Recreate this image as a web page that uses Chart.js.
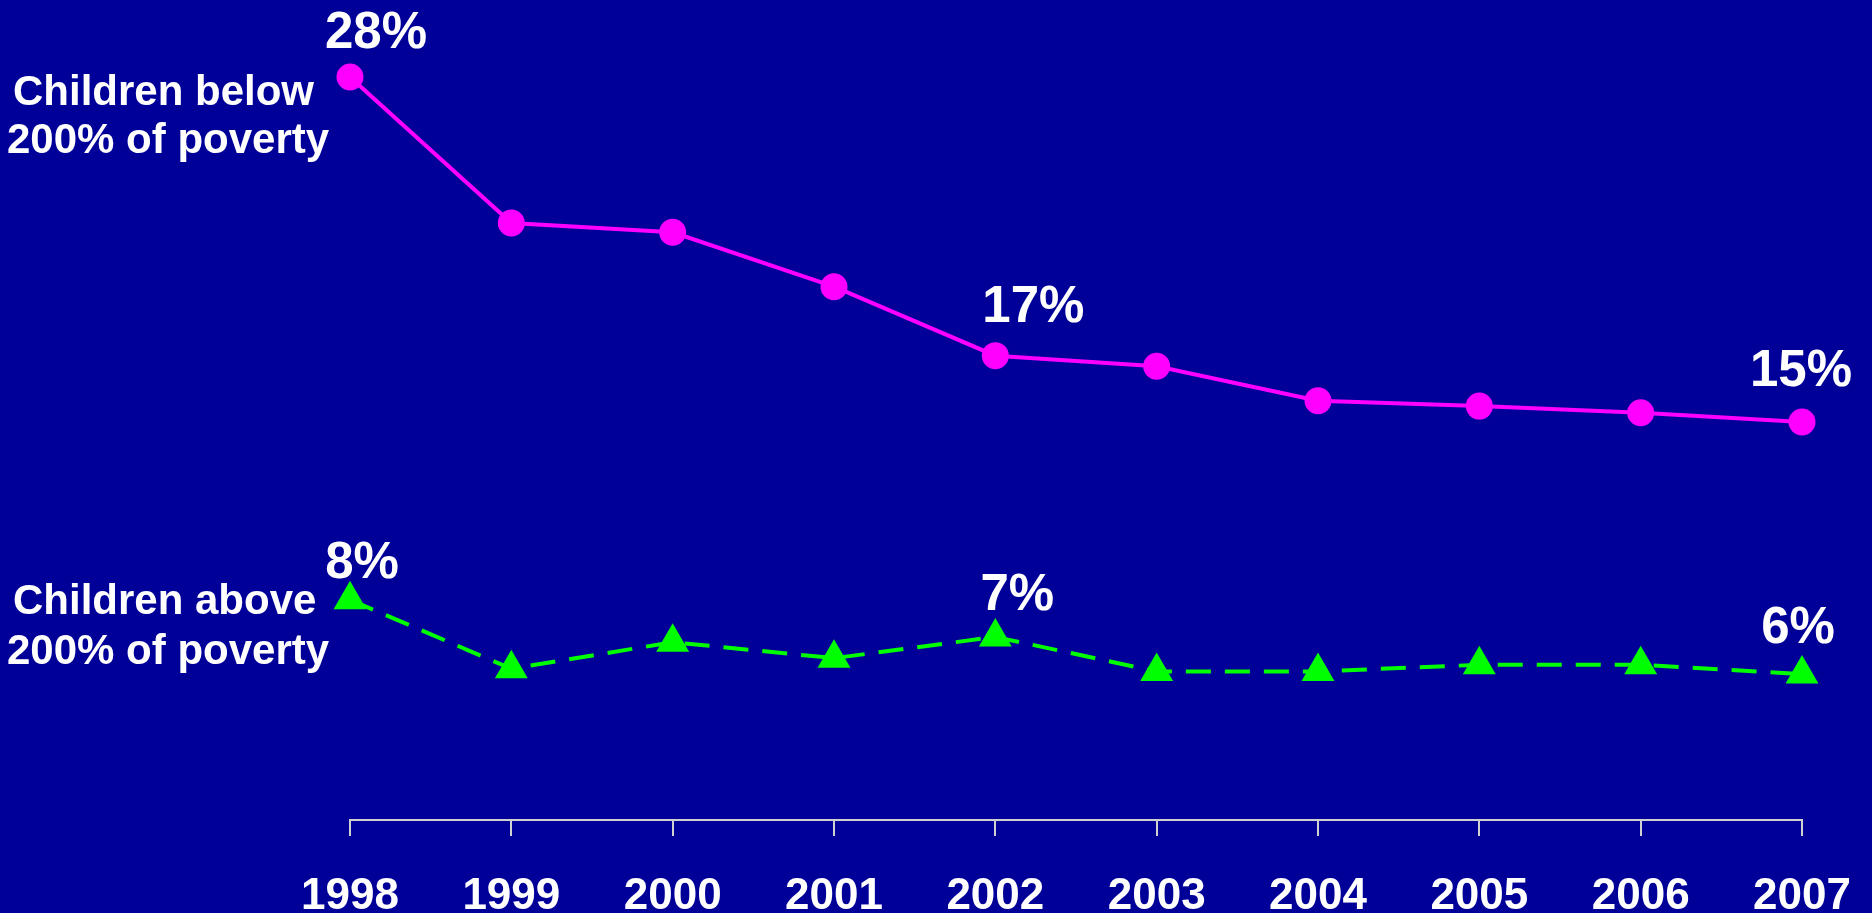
<!DOCTYPE html>
<html>
<head>
<meta charset="utf-8">
<script src="https://cdn.jsdelivr.net/npm/chart.js@4"></script>
<style>
  html, body { margin: 0; padding: 0; background: #000099; }
  #wrap { width: 1872px; height: 913px; }
</style>
</head>
<body>
<div id="wrap"><canvas id="chart" width="1872" height="913"></canvas></div>
<script>
'use strict';
var years = ['1998', '1999', '2000', '2001', '2002', '2003', '2004', '2005', '2006', '2007'];
var belowPoverty = [28.0, 22.5, 22.15, 20.1, 17.5, 17.1, 15.8, 15.6, 15.35, 15.0];
var abovePoverty = [8.3, 5.7, 6.7, 6.1, 6.9, 5.6, 5.6, 5.85, 5.85, 5.5];
var belowLabels = ['28%', '', '', '', '17%', '', '', '', '', '15%'];
var aboveLabels = ['8%', '', '', '', '7%', '', '', '', '', '6%'];
var belowName = ['Children below', '200% of poverty'];
var aboveName = ['Children above', '200% of poverty'];

var FONT = 'Liberation Sans, Arial, Helvetica, sans-serif';

// value labels + series names, drawn on top of the chart
var annotate = {
  id: 'annotate',
  afterDatasetsDraw: function(chart) {
    var ctx = chart.ctx;
    var x = chart.scales.x, y = chart.scales.y;
    ctx.save();
    ctx.fillStyle = '#ffffff';
    ctx.textAlign = 'center';
    ctx.textBaseline = 'alphabetic';
    ctx.font = 'bold 51px ' + FONT;
    // offsets of the label baseline from its point
    var offs = [[26, -29], [38, -34], [-1, -36]];
    var offsG = [[12, -22], [22, -27], [-4, -31]];
    function draw(labels, values, o) {
      var k = 0;
      labels.forEach(function(t, i) {
        if (!t) return;
        ctx.fillText(t, x.getPixelForValue(i) + o[k][0], y.getPixelForValue(values[i]) + o[k][1]);
        k++;
      });
    }
    draw(belowLabels, belowPoverty, offs);
    draw(aboveLabels, abovePoverty, offsG);

    ctx.textAlign = 'left';
    ctx.font = 'bold 42px ' + FONT;
    ctx.fillText(belowName[0], 13, 105);
    ctx.fillText(belowName[1], 7, 153);
    ctx.fillText(aboveName[0], 13, 614);
    ctx.fillText(aboveName[1], 7, 664);
    ctx.restore();
  }
};

new Chart(document.getElementById('chart'), {
  type: 'line',
  data: {
    labels: years,
    datasets: [{
      label: belowName.join(' '),
      data: belowPoverty,
      borderColor: '#ff00ff',
      backgroundColor: '#ff00ff',
      borderWidth: 4,
      pointRadius: 11.5,
      pointStyle: 'circle',
      tension: 0
    }, {
      label: aboveName.join(' '),
      data: abovePoverty,
      borderColor: '#00ff00',
      backgroundColor: '#00ff00',
      borderWidth: 4,
      borderDash: [25, 14],
      pointRadius: 15,
      pointStyle: 'triangle',
      tension: 0
    }]
  },
  options: {
    responsive: false,
    animation: false,
    events: [],
    clip: false,
    layout: { padding: { left: 350, right: 70, top: 24, bottom: 0 } },
    plugins: { legend: { display: false }, tooltip: { enabled: false } },
    scales: {
      x: {
        offset: false,
        afterFit: function(s) { s.height = 93; s.paddingLeft = 0; s.paddingRight = 0; },
        border: { display: true, color: '#d0d0d0', width: 2 },
        grid: { display: true, drawOnChartArea: false, color: '#d0d0d0', lineWidth: 2, tickLength: 16 },
        ticks: { color: '#ffffff', padding: 34, autoSkip: false, maxRotation: 0,
                 font: { family: FONT, size: 44, weight: 'bold' } }
      },
      y: { display: false, min: 0, max: 30 }
    }
  },
  plugins: [annotate]
});
</script>
</body>
</html>
